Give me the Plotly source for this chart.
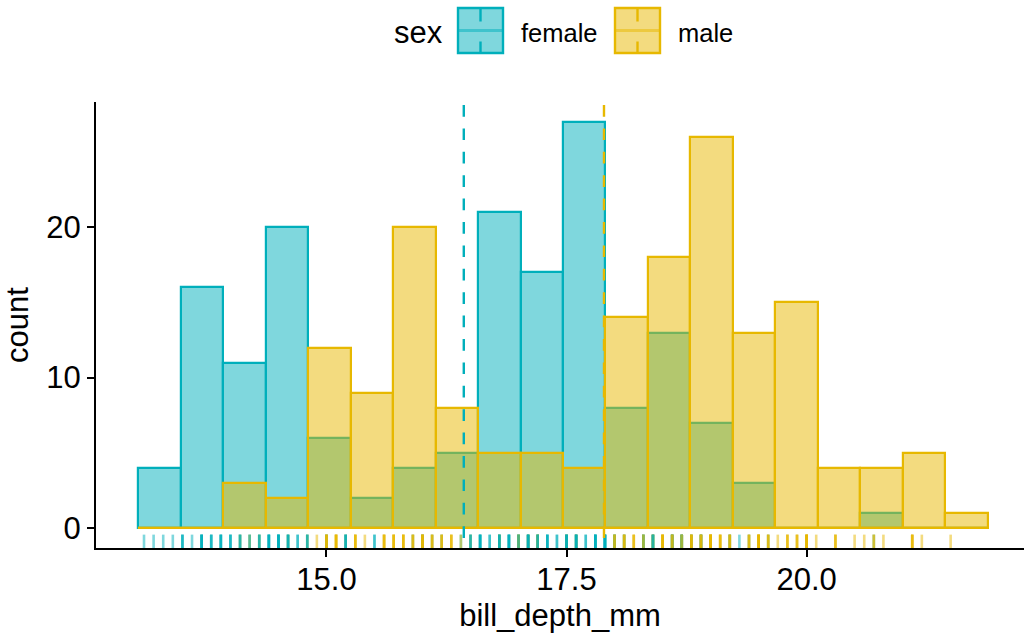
import math
import plotly.graph_objects as go

# Bill depth (mm) histogram of penguins by sex, 20 bins
depth_min, depth_max, n_bins = 13.1, 21.5, 20
female_counts = [4, 16, 11, 20, 6, 2, 4, 5, 21, 17, 27, 8, 13, 7, 3, 0, 0, 1, 0, 0]
male_counts = [0, 0, 3, 2, 12, 9, 20, 8, 5, 5, 4, 14, 18, 26, 13, 15, 4, 4, 5, 1]

# group means (dashed reference lines)
female_mean = 16.43
male_mean = 17.89

# rug: observed depths and how many birds of each sex share that value
rug_depth = [13.1, 13.2, 13.3, 13.4, 13.5, 13.6, 13.7, 13.8, 13.9, 14.0,
             14.1, 14.2, 14.3, 14.4, 14.5, 14.6, 14.7, 14.8, 14.9, 15.0,
             15.1, 15.2, 15.3, 15.4, 15.5, 15.6, 15.7, 15.8, 15.9, 16.0,
             16.1, 16.2, 16.3, 16.4, 16.5, 16.6, 16.7, 16.8, 16.9, 17.0,
             17.1, 17.2, 17.3, 17.4, 17.5, 17.6, 17.7, 17.8, 17.9, 18.0,
             18.1, 18.2, 18.3, 18.4, 18.5, 18.6, 18.7, 18.8, 18.9, 19.0,
             19.1, 19.2, 19.3, 19.4, 19.5, 19.6, 19.7, 19.8, 19.9, 20.0,
             20.1, 20.3, 20.5, 20.6, 20.7, 20.8, 21.1, 21.2, 21.5]
rug_female_n = [1, 1, 1, 1, 3, 1, 5, 3, 4, 3,
                3, 2, 3, 5, 6, 4, 2, 3, 0, 2,
                0, 4, 0, 0, 2, 0, 0, 0, 1, 2,
                1, 1, 0, 1, 3, 5, 2, 5, 5, 4,
                6, 5, 4, 2, 6, 6, 2, 6, 7, 3,
                2, 0, 3, 5, 0, 4, 4, 2, 3, 0,
                0, 2, 1, 1, 0, 1, 0, 0, 0, 0,
                0, 0, 0, 0, 1, 0, 0, 0, 0]
rug_male_n = [0, 0, 0, 0, 0, 0, 0, 0, 0, 0,
              1, 1, 1, 0, 0, 1, 0, 1, 1, 5,
              5, 1, 4, 1, 0, 4, 4, 4, 3, 6,
              3, 3, 3, 1, 1, 0, 0, 2, 0, 3,
              2, 3, 0, 0, 2, 2, 0, 0, 0, 4,
              4, 3, 3, 3, 6, 5, 4, 5, 5, 8,
              4, 4, 0, 3, 7, 3, 1, 3, 3, 7,
              1, 3, 1, 1, 2, 1, 4, 1, 1]

FEMALE = "#00AFBB"
MALE = "#E7B800"
FEMALE_FILL = "rgba(0,175,187,0.5)"
MALE_FILL = "rgba(231,184,0,0.5)"
FONT = "Liberation Sans, Arial, sans-serif"

# ggplot2-style bin breaks for a fixed number of bins
bw = (depth_max - depth_min) / (n_bins - 1)
boundary = bw / 2
origin = boundary + math.floor((depth_min - boundary) / bw) * bw
edges = [origin + k * bw for k in range(n_bins + 1)]
centers = [(edges[k] + edges[k + 1]) / 2 for k in range(n_bins)]

ymax = max(max(female_counts), max(male_counts))
yr = [-0.05 * ymax, ymax * 1.05]
span = edges[-1] - edges[0]
x_lo = edges[0] - 0.05 * span

W, H = 1024, 633
ML, MR, MT, MB = 96, 0, 102, 85
plot_w = W - ML - MR
plot_h = H - MT - MB
x_hi = x_lo + span * 1.1 * (plot_w / 934.0)


def px_x(px):
    return (px - ML) / plot_w


def px_y(py):
    return (H - MB - py) / plot_h


fig = go.Figure()
fig.add_trace(go.Bar(x=centers, y=female_counts, width=bw, name="female",
                     marker=dict(color=FEMALE_FILL, line=dict(color=FEMALE, width=2.2))))
fig.add_trace(go.Bar(x=centers, y=male_counts, width=bw, name="male",
                     marker=dict(color=MALE_FILL, line=dict(color=MALE, width=2.2))))

shapes = []
# bottom edge of the (possibly empty) bins
shapes.append(dict(type="line", xref="x", yref="y", x0=edges[0], x1=edges[-1], y0=0, y1=0,
                   line=dict(color=MALE, width=2.2), layer="above"))

# rug ticks, one per bird, semi-transparent so shared values darken
yrange = yr[1] - yr[0]
rug_top = yr[0] + 0.03 * yrange
for v, nf, nm in zip(rug_depth, rug_female_n, rug_male_n):
    seq = []
    for i in range(max(nf, nm)):
        if i < nf:
            seq.append(FEMALE_FILL)
        if i < nm:
            seq.append(MALE_FILL)
    for col in seq:
        shapes.append(dict(type="line", xref="x", yref="y", x0=v, x1=v,
                           y0=yr[0], y1=rug_top, line=dict(color=col, width=2.6),
                           layer="above"))

# dashed mean lines
dash_top = yr[1] + 20.4 / plot_h * yrange
for m, col in ((female_mean, FEMALE), (male_mean, MALE)):
    shapes.append(dict(type="line", xref="x", yref="y", x0=m, x1=m, y0=dash_top, y1=yr[0],
                       line=dict(color=col, width=2.4, dash="11.7px,11.7px"), layer="above"))

# legend keys
annotations = []
for (bx, fill, col, mid_col, label, tx) in (
        (458, FEMALE_FILL, FEMALE, "rgba(0,175,187,0.5)", "female", 519),
        (615, MALE_FILL, MALE, "rgba(231,184,0,0.5)", "male", 676)):
    x0, x1 = px_x(bx), px_x(bx + 45)
    y0, y1 = px_y(53), px_y(8)
    shapes.append(dict(type="rect", xref="paper", yref="paper", x0=x0, x1=x1, y0=y0, y1=y1,
                       fillcolor=fill, line=dict(color=col, width=2.4)))
    shapes.append(dict(type="line", xref="paper", yref="paper", x0=x0, x1=x1,
                       y0=px_y(30.5), y1=px_y(30.5), line=dict(color=mid_col, width=3)))
    cx = px_x(bx + 22.5)
    shapes.append(dict(type="line", xref="paper", yref="paper", x0=cx, x1=cx,
                       y0=px_y(21.5), y1=px_y(8), line=dict(color=col, width=2.4)))
    shapes.append(dict(type="line", xref="paper", yref="paper", x0=cx, x1=cx,
                       y0=px_y(53), y1=px_y(41.5), line=dict(color=col, width=2.4)))
    annotations.append(dict(text=label, xref="paper", yref="paper", x=px_x(tx), y=px_y(33),
                            xanchor="left", yanchor="middle", showarrow=False,
                            font=dict(family=FONT, size=25.5, color="black")))
annotations.append(dict(text="sex", xref="paper", yref="paper", x=px_x(392), y=px_y(32),
                        xanchor="left", yanchor="middle", showarrow=False,
                        font=dict(family=FONT, size=31, color="black")))

fig.update_layout(
    width=W, height=H, autosize=False,
    margin=dict(l=ML, r=MR, t=MT, b=MB, pad=0),
    paper_bgcolor="white", plot_bgcolor="white",
    barmode="overlay", bargap=0, showlegend=False,
    shapes=shapes, annotations=annotations,
    font=dict(family=FONT, size=31, color="black"),
    xaxis=dict(range=[x_lo, x_hi], tickvals=[15, 17.5, 20], ticktext=["15.0", "17.5", "20.0"],
               showgrid=False, zeroline=False, showline=True, linecolor="black", linewidth=2,
               ticks="outside", ticklen=7, tickwidth=2, tickcolor="black",
               ticklabelstandoff=-4,
               tickfont=dict(family=FONT, size=31, color="black"),
               title=dict(text="bill_depth_mm", standoff=8,
                          font=dict(family=FONT, size=31, color="black"))),
    yaxis=dict(range=yr, tickvals=[0, 10, 20], ticktext=["0", "10", "20"],
               showgrid=False, zeroline=False, showline=True, linecolor="black", linewidth=2,
               ticks="outside", ticklen=7, tickwidth=2, tickcolor="black",
               tickfont=dict(family=FONT, size=31, color="black"),
               title=dict(text="count", standoff=10,
                          font=dict(family=FONT, size=31, color="black"))),
)

fig.write_html("out.html")
